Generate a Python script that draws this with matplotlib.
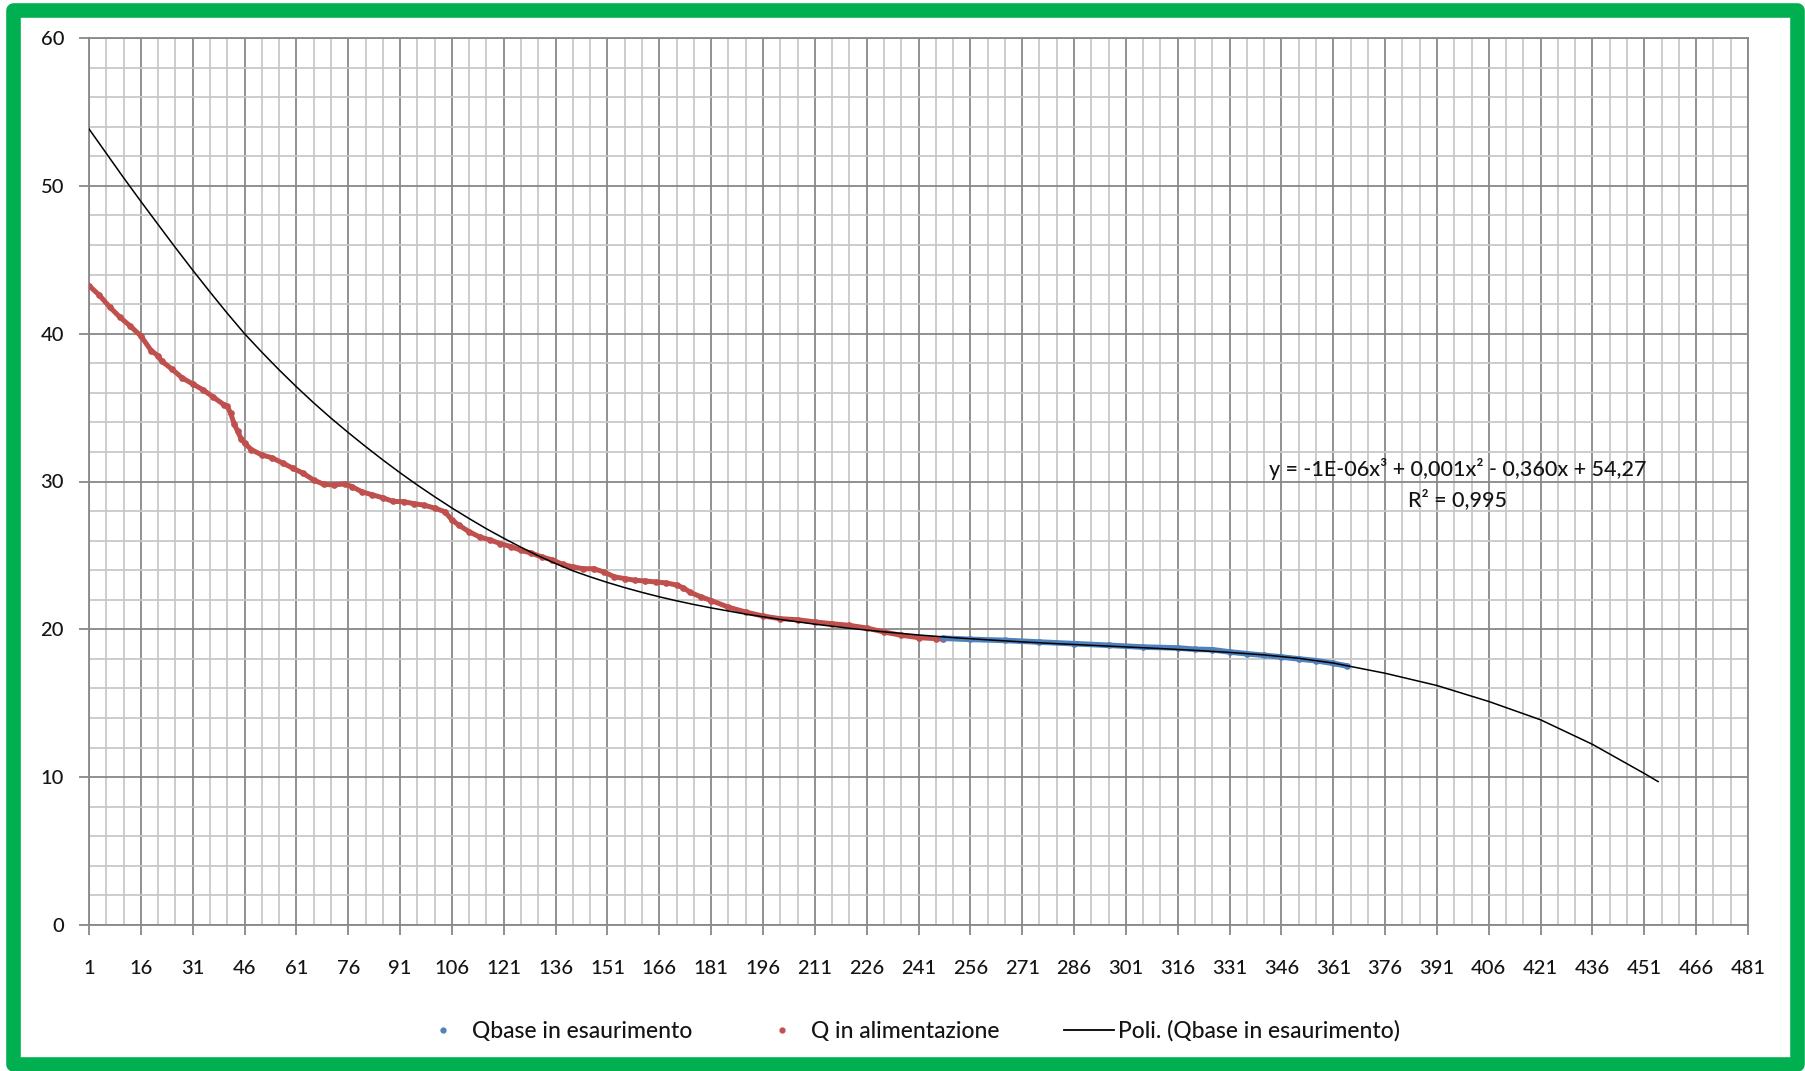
import matplotlib
matplotlib.use('Agg')
import matplotlib.pyplot as plt
from matplotlib.lines import Line2D
from matplotlib.patches import Rectangle
from matplotlib.ticker import FixedLocator

plt.rcParams['font.family'] = ['Lato', 'DejaVu Sans']

# ---------------- data ----------------
red_x = [1, 4, 7, 10, 13, 16, 19, 21, 22, 25, 28, 31, 34, 37, 40, 41, 42, 43, 44, 45,
         46, 48, 51, 54, 57, 60, 63, 66, 69, 72, 75, 77, 80, 83, 86, 89, 92, 95, 98, 101,
         104, 106, 108, 111, 114, 117, 120, 123, 126, 129, 132, 135, 138, 141, 144, 147,
         150, 153, 156, 159, 162, 165, 168, 171, 173, 175, 178, 181, 186, 191, 196, 201,
         206, 211, 216, 221, 226, 231, 236, 241, 246, 248]
red_y = [43.25, 42.6, 41.8, 41.1, 40.5, 39.85, 38.85, 38.5, 38.15, 37.6, 37.0, 36.6, 36.2,
         35.7, 35.2, 35.1, 34.6, 33.9, 33.4, 32.9, 32.6, 32.15, 31.8, 31.6, 31.25, 30.9,
         30.55, 30.1, 29.8, 29.77, 29.84, 29.66, 29.3, 29.1, 28.9, 28.65, 28.64, 28.5,
         28.4, 28.2, 27.95, 27.4, 27.05, 26.6, 26.25, 26.05, 25.8, 25.6, 25.35, 25.15,
         24.9, 24.7, 24.4, 24.22, 24.1, 24.1, 23.88, 23.55, 23.43, 23.32, 23.27, 23.2,
         23.14, 23.0, 22.8, 22.5, 22.2, 21.95, 21.5, 21.17, 20.9, 20.72, 20.65, 20.5,
         20.38, 20.27, 20.09, 19.82, 19.6, 19.44, 19.37, 19.35]

blue_x = [248, 256, 266, 276, 286, 296, 306, 316, 321, 326, 331, 336, 341, 346, 351,
          356, 361, 365]
blue_y = [19.4, 19.32, 19.25, 19.14, 19.03, 18.92, 18.8, 18.74, 18.65, 18.62, 18.47,
          18.35, 18.24, 18.13, 18.0, 17.88, 17.7, 17.52]

trend_x = [1, 6, 11, 16, 21, 26, 31, 36, 41, 46, 51, 56, 61, 66, 71, 76, 81, 86, 91, 96,
           101, 106, 111, 116, 121, 126, 131, 136, 141, 146, 151, 156, 161, 166, 171, 176,
           181, 191, 201, 211, 221, 231, 241, 251, 261, 271, 281, 291, 301, 311, 321, 331,
           341, 351, 361, 376, 391, 406, 421, 436, 451, 455]
trend_y = [53.85, 52.2, 50.55, 48.95, 47.38, 45.82, 44.3, 42.82, 41.38, 40.0, 38.75,
           37.55, 36.41, 35.32, 34.29, 33.31, 32.37, 31.46, 30.59, 29.76, 28.97, 28.21,
           27.49, 26.8, 26.16, 25.55, 24.97, 24.45, 23.96, 23.55, 23.17, 22.82, 22.5,
           22.2, 21.93, 21.68, 21.45, 21.03, 20.67, 20.35, 20.07, 19.83, 19.62, 19.44,
           19.29, 19.15, 19.03, 18.92, 18.81, 18.7, 18.58, 18.44, 18.27, 18.04, 17.72,
           17.03, 16.2, 15.12, 13.88, 12.22, 10.25, 9.7]

x_major = list(range(1, 482, 15))
x_labels = [str(v) for v in x_major]
y_major = [0, 10, 20, 30, 40, 50, 60]

series_names = ['Qbase in esaurimento', 'Q in alimentazione', 'Poli. (Qbase in esaurimento)']
eq_text = 'y = -1E-06x³ + 0,001x² - 0,360x + 54,27'
r2_text = 'R² = 0,995'

# ---------------- figure ----------------
W, H = 1805, 1071
fig = plt.figure(figsize=(W / 100, H / 100), dpi=100)
L, R, T, B = 89, 1748, 38, 925
ax = fig.add_axes([L / W, 1 - B / H, (R - L) / W, (B - T) / H])

ax.set_xlim(1, 481)
ax.set_ylim(0, 60)

major_c = '#888888'
minor_c = '#c8c8c8'
txt_c = '#141414'
ax.xaxis.set_major_locator(FixedLocator(x_major))
ax.xaxis.set_minor_locator(FixedLocator([v for v in range(1, 482, 5) if (v - 1) % 15 != 0]))
ax.yaxis.set_major_locator(FixedLocator(y_major))
ax.yaxis.set_minor_locator(FixedLocator([v for v in range(0, 61, 2) if v % 10 != 0]))
ax.set_xticklabels(x_labels)
ax.set_axisbelow(True)
ax.grid(which='minor', color=minor_c, lw=1.3)
ax.grid(which='major', color=major_c, lw=1.3)
ax.tick_params(which='minor', length=0)
ax.tick_params(which='major', direction='out', length=7, width=1.3, color=major_c,
               labelsize=14.5, labelcolor=txt_c)
ax.tick_params(axis='x', pad=18.5)
ax.tick_params(axis='y', pad=11)
for lab in ax.get_xticklabels() + ax.get_yticklabels():
    lab.set_fontweight('medium')
for s in ax.spines.values():
    s.set_color(major_c)
    s.set_linewidth(1.3)

red_c = '#C0504D'
blue_c = '#4F81BD'
ax.plot(red_x, red_y, color=red_c, lw=3.6, marker='o', ms=3.8,
        solid_joinstyle='round', solid_capstyle='round', zorder=3)
ax.plot(blue_x, blue_y, color=blue_c, lw=4.0, marker='o', ms=3.8,
        solid_joinstyle='round', solid_capstyle='round', zorder=3)
ax.plot(trend_x, trend_y, color='black', lw=1.1, zorder=4,
        solid_joinstyle='round')

ax.text(0.825, 0.514, eq_text, transform=ax.transAxes, ha='center', va='center',
        fontsize=15.5, color=txt_c, fontweight='medium')
ax.text(0.825, 0.480, r2_text, transform=ax.transAxes, ha='center', va='center',
        fontsize=15.5, color=txt_c, fontweight='medium')

handles = [
    Line2D([], [], ls='none', marker='o', ms=3.5, color=blue_c, label=series_names[0]),
    Line2D([], [], ls='none', marker='o', ms=3.5, color=red_c, label=series_names[1]),
    Line2D([], [], color='black', lw=1.3, label=series_names[2]),
]
leg = fig.legend(handles=handles, loc='center', bbox_to_anchor=(909 / W, 1 - 1031 / H),
                 ncol=3, frameon=False, fontsize=16.5, handlelength=2.2,
                 handletextpad=0.16, columnspacing=2.8, labelcolor=txt_c)
for t in leg.get_texts():
    t.set_fontweight('medium')

# green outer frame
frame = Rectangle((12.5 / W, 7 / H), (1796.5 - 12.5) / W, (1061 - 7) / H,
                  transform=fig.transFigure, fill=False, edgecolor='#00B050',
                  lw=10.5, joinstyle='round')
fig.add_artist(frame)

fig.savefig('out.png', dpi=100)
